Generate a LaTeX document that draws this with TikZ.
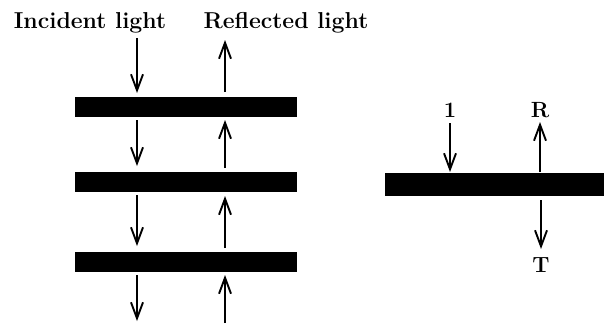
\documentclass[tikz,border=0pt]{standalone}
\usetikzlibrary{arrows.meta}
\begin{document}
\begin{tikzpicture}[x=1pt,y=-1pt,
  bar/.style={fill=black,draw=none,inner sep=0pt,outer sep=0pt,minimum height=20pt},
  ray/.style={line width=2.6pt,-{Straight Barb[length=16pt,width=12pt,line width=1.9pt]}},
  title/.style={font=\bfseries\fontsize{23}{26}\selectfont,inner sep=0pt,anchor=base},
  lbl/.style={font=\bfseries\fontsize{22}{25}\selectfont,inner sep=0pt,anchor=base}]
\useasboundingbox (0,0) rectangle (604,325);
% left stack
\node[bar,minimum width=222pt] (b1) at (186,106.5) {};
\node[bar,minimum width=222pt] (b2) at (186,181.5) {};
\node[bar,minimum width=222pt] (b3) at (186,262) {};
\node[title] (inc) at (90,28) {Incident light};
\node[title] (ref) at (286,28) {Reflected light};
% arrow end coordinates
\coordinate (d0s) at (137,38);  \coordinate (d0e) at (137,93);
\coordinate (u0s) at (225,92);  \coordinate (u0e) at (225,40);
\coordinate (d1s) at (137,120); \coordinate (d1e) at (137,166);
\coordinate (u1s) at (225,168); \coordinate (u1e) at (225,120);
\coordinate (d2s) at (137,195); \coordinate (d2e) at (137,246);
\coordinate (u2s) at (225,248); \coordinate (u2e) at (225,196);
\coordinate (d3s) at (137,275); \coordinate (d3e) at (137,321);
\coordinate (u3s) at (225,323); \coordinate (u3e) at (225,275);
\draw[ray] (d0s) -- (d0e);
\draw[ray] (u0s) -- (u0e);
\draw[ray] (d1s) -- (d1e);
\draw[ray] (u1s) -- (u1e);
\draw[ray] (d2s) -- (d2e);
\draw[ray] (u2s) -- (u2e);
\draw[ray] (d3s) -- (d3e);
\draw[ray] (u3s) -- (u3e);
% right single layer
\node[bar,minimum width=219pt,minimum height=23pt] (b4) at (494.5,184.5) {};
\node[lbl] (one) at (450,117) {1};
\node[lbl] (R) at (540,117) {R};
\node[lbl] (T) at (541,272) {T};
\coordinate (is) at (450,123); \coordinate (ie) at (450,172);
\coordinate (rs) at (540,172); \coordinate (re) at (540,122);
\coordinate (ts) at (541,200); \coordinate (te) at (541,249);
\draw[ray] (is) -- (ie);
\draw[ray] (rs) -- (re);
\draw[ray] (ts) -- (te);
\end{tikzpicture}
\end{document}
